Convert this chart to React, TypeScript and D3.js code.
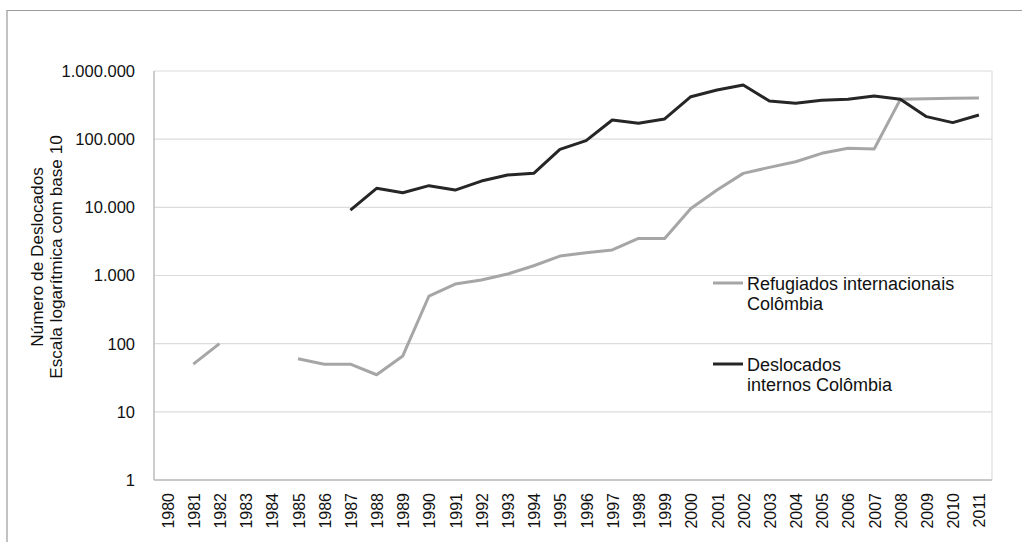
import React from "react";
import * as d3 from "d3";

// Years on the category axis
const years: string[] = [
  "1980", "1981", "1982", "1983", "1984", "1985", "1986", "1987", "1988", "1989",
  "1990", "1991", "1992", "1993", "1994", "1995", "1996", "1997", "1998", "1999",
  "2000", "2001", "2002", "2003", "2004", "2005", "2006", "2007", "2008", "2009",
  "2010", "2011",
];

// International refugees from Colombia (null = no data)
const refugiados: (number | null)[] = [
  null, 50, 100, null, null, 60, 50, 50, 35, 66,
  500, 750, 860, 1050, 1390, 1930, 2160, 2370, 3500, 3500,
  9600, 17900, 31500, 38600, 46700, 62000, 73400, 71700, 384000, 392000,
  398000, 401000,
];

// Internally displaced people in Colombia (null = no data)
const deslocados: (number | null)[] = [
  null, null, null, null, null, null, null, 9100, 19000, 16400,
  20800, 17900, 24300, 29800, 31600, 70800, 95000, 191000, 171000, 198000,
  420000, 526000, 623000, 363000, 336000, 372000, 384000, 430000, 384000, 214000,
  175000, 226000,
];

const yTicks: number[] = [1, 10, 100, 1000, 10000, 100000, 1000000];

const seriesNames = {
  refugiados: ["Refugiados internacionais", "Colômbia"],
  deslocados: ["Deslocados", "internos Colômbia"],
};

const yTitle = ["Número de Deslocados", "Escala logarítmica com base 10"];

const FONT = "'Liberation Sans', Arial, Helvetica, sans-serif";
const GRAY = "#a6a6a6";
const DARK = "#262626";

const ptLocale = d3.formatLocale({
  decimal: ",",
  thousands: ".",
  grouping: [3],
  currency: ["", ""],
});
const fmt = ptLocale.format(",");

export default function App() {
  const W = 1022;
  const H = 542;
  const left = 154;
  const right = 992;
  const top = 71;
  const bottom = 480;

  const x = d3.scaleBand<string>().domain(years).range([left, right]);
  const cx = (yr: string) => (x(yr) as number) + x.bandwidth() / 2;
  const y = d3.scaleLog().domain([1, 1000000]).range([bottom, top]);

  const line = d3
    .line<number | null>()
    .defined((d) => d != null)
    .x((_, i) => cx(years[i]))
    .y((d) => y(d as number));

  const legendX = 713;

  return (
    <svg
      width={W}
      height={H}
      style={{ position: "absolute", left: 0, top: 0, background: "#fff" }}
      fontFamily={FONT}
    >
      {/* outer frame */}
      <line x1={7} x2={W} y1={10.5} y2={10.5} stroke="#9a9a9a" strokeWidth={1.2} />
      <line x1={7} x2={7} y1={10} y2={H} stroke="#9a9a9a" strokeWidth={1.2} />

      {/* gridlines */}
      {yTicks.map((t) => (
        <line
          key={t}
          x1={left}
          x2={right}
          y1={y(t)}
          y2={y(t)}
          stroke="#dcdcdc"
          strokeWidth={1.2}
        />
      ))}
      <line x1={right} x2={right} y1={top} y2={bottom} stroke="#dcdcdc" strokeWidth={1.2} />

      {/* axes */}
      <line x1={left} x2={left} y1={top} y2={bottom} stroke="#bdbdbd" strokeWidth={1.5} />
      <line x1={left} x2={right} y1={bottom} y2={bottom} stroke="#bdbdbd" strokeWidth={1.5} />

      {/* y tick labels */}
      {yTicks.map((t) => (
        <text
          key={t}
          x={135}
          y={y(t)}
          dy="0.36em"
          textAnchor="end"
          fontSize={16.5}
          fill="#111"
        >
          {fmt(t)}
        </text>
      ))}

      {/* x tick labels */}
      {years.map((yr) => (
        <text
          key={yr}
          transform={`translate(${cx(yr) + 6.5},493) rotate(-90)`}
          textAnchor="end"
          fontSize={16}
          fill="#111"
        >
          {yr}
        </text>
      ))}

      {/* y axis title */}
      <text
        transform={`translate(43,257) rotate(-90)`}
        textAnchor="middle"
        fontSize={17.2}
        fill="#111"
      >
        {yTitle[0]}
      </text>
      <text
        transform={`translate(61.5,257) rotate(-90)`}
        textAnchor="middle"
        fontSize={17.2}
        fill="#111"
      >
        {yTitle[1]}
      </text>

      {/* series */}
      <path d={line(refugiados) || ""} fill="none" stroke={GRAY} strokeWidth={3} strokeLinejoin="round" />
      <path d={line(deslocados) || ""} fill="none" stroke={DARK} strokeWidth={3} strokeLinejoin="round" />

      {/* legend */}
      <line x1={legendX} x2={legendX + 30} y1={283} y2={283} stroke={GRAY} strokeWidth={3} />
      <text x={747} y={289.5} fontSize={18} fill="#111">
        {seriesNames.refugiados[0]}
      </text>
      <text x={747} y={309.5} fontSize={18} fill="#111">
        {seriesNames.refugiados[1]}
      </text>
      <line x1={legendX} x2={legendX + 30} y1={364} y2={364} stroke={DARK} strokeWidth={3} />
      <text x={747} y={370.5} fontSize={18} fill="#111">
        {seriesNames.deslocados[0]}
      </text>
      <text x={747} y={390.5} fontSize={18} fill="#111">
        {seriesNames.deslocados[1]}
      </text>
    </svg>
  );
}
